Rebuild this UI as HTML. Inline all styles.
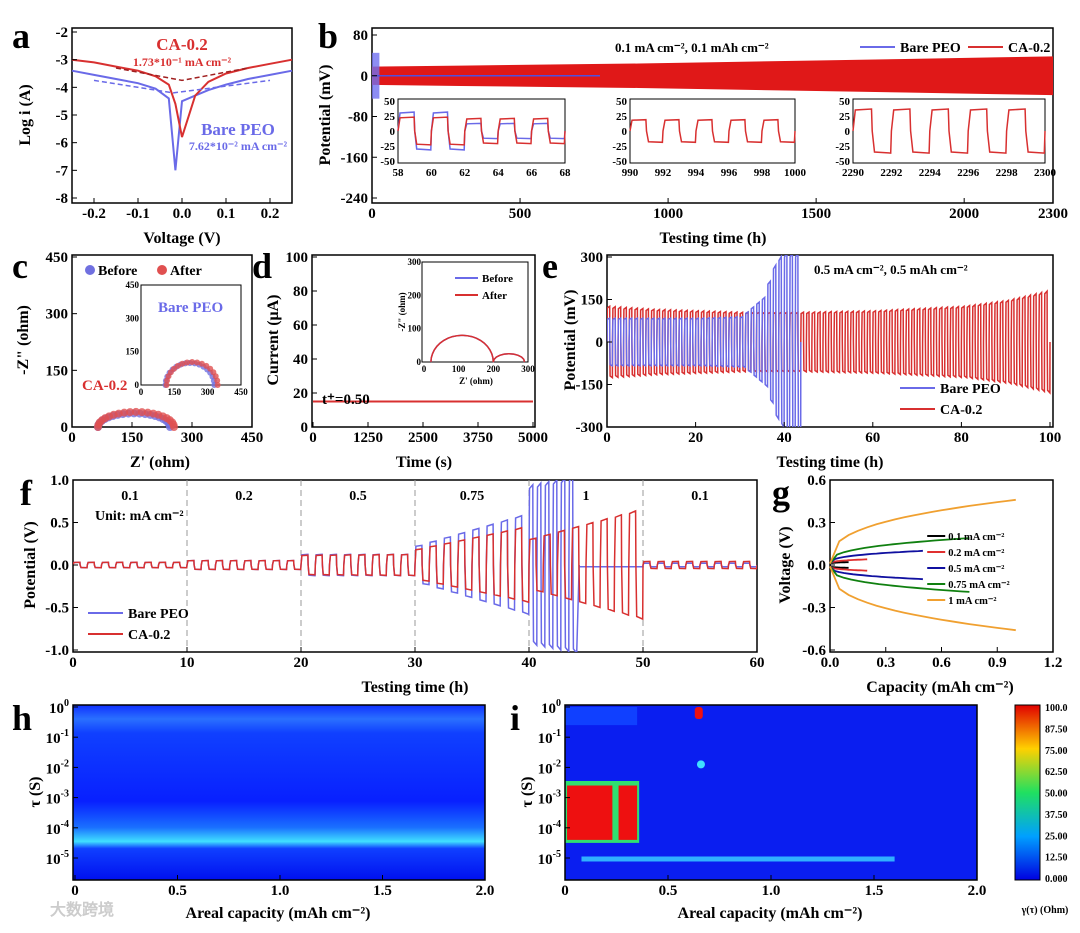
<!DOCTYPE html>
<html><head><meta charset="utf-8"><style>
body{margin:0;background:#fff}
svg text{font-family:"Liberation Serif",serif;font-weight:bold}
</style></head><body>
<svg id="fig" width="1080" height="928" viewBox="0 0 1080 928" xmlns="http://www.w3.org/2000/svg">
<defs>
<linearGradient id="cbar" x1="0" y1="1" x2="0" y2="0">
<stop offset="0" stop-color="#0000e0"/><stop offset="0.25" stop-color="#00a0ff"/><stop offset="0.5" stop-color="#20e060"/><stop offset="0.75" stop-color="#ffd000"/><stop offset="1" stop-color="#e00000"/></linearGradient>
<linearGradient id="hgrad" x1="0" y1="0" x2="0" y2="1">
<stop offset="0" stop-color="#1030ff"/><stop offset="0.08" stop-color="#2a70ff"/><stop offset="0.16" stop-color="#1040ff"/><stop offset="0.55" stop-color="#0820ff"/><stop offset="0.7" stop-color="#1a70ff"/><stop offset="0.78" stop-color="#40e0ff"/><stop offset="0.82" stop-color="#1040ff"/><stop offset="1" stop-color="#0010f0"/></linearGradient>
</defs>
</svg>
<script>
// ---------- data ----------
const tafelV=[-0.25,-0.2,-0.15,-0.1,-0.06,-0.03,-0.015,0,0.03,0.06,0.1,0.15,0.2,0.25];
const tafelCA=[-3.0,-3.1,-3.25,-3.4,-3.6,-3.9,-4.6,-5.8,-4.3,-3.8,-3.5,-3.3,-3.15,-3.0];
const tafelBare=[-3.4,-3.55,-3.7,-3.85,-4.05,-4.4,-7.0,-4.5,-4.3,-4.1,-3.9,-3.7,-3.55,-3.4];
const bTimes=[0,300,600,900,1200,1500,1800,2100,2300];
const bAmp=[18,20,22,24,27,30,33,36,38];
const inset1Bare=[30,-40,30,-40,12,-12,12,-12,12,-12];
const inset1CA=[22,-25,22,-25,20,-20,20,-20,20,-20];
const inset2CA=[18,18,18,18,18];
const inset3CA=[35,35,35,35,35];
const eCycleTime=[0,10,20,30,35,38,40,43,60,80,90,100];
const eCA=[120,110,105,100,100,100,100,100,105,120,140,175];
const eBare=[80,80,80,85,150,280,300,300,0,0,0,0];
const fSegStart=[0,10,20,30,40,50];
const fSegLabel=["0.1","0.2","0.5","0.75","1","0.1"];
const fCAStart=[0.03,0.05,0.11,0.18,0.3,0.04];
const fCAEnd=[0.03,0.05,0.12,0.45,0.65,0.04];
const fBareStart=[0.03,0.05,0.12,0.22,0.9,0.02];
const fBareEnd=[0.03,0.05,0.12,0.6,1.0,0.02];
const gRates=["0.1 mA cm⁻²","0.2 mA cm⁻²","0.5 mA cm⁻²","0.75 mA cm⁻²","1 mA cm⁻²"];
const gCap=[0.1,0.2,0.5,0.75,1.0];
const gVolt=[0.02,0.04,0.1,0.19,0.46];
const gColors=["#000","#e03030","#1010a0","#108010","#f0a030"];
// ---------- helpers ----------
const svg=document.getElementById('fig');const NS='http://www.w3.org/2000/svg';
function mk(tag,attrs,parent,name,inter){const e=document.createElementNS(NS,tag);for(const k in attrs)e.setAttribute(k,attrs[k]);


(parent||svg).appendChild(e);return e;}
function txt(x,y,s,size,attrs,name,parent){const t=mk('text',Object.assign({x:x,y:y,'font-size':size},attrs||{}),parent,name||'label');t.textContent=s;return t;}
function scale(d0,d1,r0,r1){return v=>r0+(v-d0)/(d1-d0)*(r1-r0);}
function frame(x0,y0,x1,y1,name){mk('rect',{x:x0,y:y0,width:x1-x0,height:y1-y0,fill:'none',stroke:'#000','stroke-width':1.5},null,name);}
function xticks(sx,vals,labs,y,size,name){vals.forEach((v,i)=>{mk('line',{x1:sx(v),x2:sx(v),y1:y,y2:y-5,stroke:'#000'},null,'x-tick');txt(sx(v),y+15,labs[i],size||15,{'text-anchor':'middle'},name||'x-tick-label');});}
function yticks(sy,vals,labs,x,size,name){vals.forEach((v,i)=>{mk('line',{x1:x,x2:x+5,y1:sy(v),y2:sy(v),stroke:'#000'},null,'y-tick');txt(x-4,sy(v)+5,labs[i],size||15,{'text-anchor':'end'},name||'y-tick-label');});}
function poly(pts,color,w,name,dash,parent){return mk('polyline',{points:pts.map(p=>p[0].toFixed(1)+','+p[1].toFixed(1)).join(' '),fill:'none',stroke:color,'stroke-width':w||1.5,'stroke-dasharray':dash||'none'},parent,name);}
function panelLabel(x,y,s){txt(x,y,s,36,{},'panel-label-'+s);}
function interp(xs,ys,x){for(let i=1;i<xs.length;i++){if(x<=xs[i]){const t=(x-xs[i-1])/(xs[i]-xs[i-1]);return ys[i-1]+t*(ys[i]-ys[i-1]);}}return ys[ys.length-1];}
function squareWave(sx,sy,t0,t1,period,ampFn,offFn){const pts=[];const n=Math.round((t1-t0)/period);for(let k=0;k<n;k++){const ta=t0+k*period,a=ampFn(ta);const tb=ta+period/2,tc=ta+period;const q=period*0.06;
pts.push([sx(ta),sy(0)],[sx(ta+q),sy(a)],[sx(tb-q*0.3),sy(a*1.05)],[sx(tb),sy(0)],[sx(tb+q),sy(-a)],[sx(tc-q*0.3),sy(-a*1.05)]);}pts.push([sx(t1),sy(0)]);return pts;}
const BLUE='#6a6ae8',RED='#d83030';
// ---------- panel a ----------
(function(){const sx=scale(-0.25,0.25,72,292),sy=scale(-2,-8,32,198);frame(72,28,292,203,'panel-a-frame');
poly(tafelV.map((v,i)=>[sx(v),sy(tafelBare[i])]),BLUE,2,'bare-peo-tafel');poly(tafelV.map((v,i)=>[sx(v),sy(tafelCA[i])]),RED,2,'ca-tafel');
poly([[sx(-0.2),sy(-3.75)],[sx(-0.02),sy(-4.2)],[sx(0.2),sy(-3.75)]],BLUE,1.5,'bare-fit','5,3');poly([[sx(-0.15),sy(-3.3)],[sx(0),sy(-3.75)],[sx(0.15),sy(-3.3)]],'#a02020',1.5,'ca-fit','5,3');
yticks(sy,[-2,-3,-4,-5,-6,-7,-8],['-2','-3','-4','-5','-6','-7','-8'],72);xticks(sx,[-0.2,-0.1,0,0.1,0.2],['-0.2','-0.1','0.0','0.1','0.2'],203);
txt(182,243,'Voltage (V)',16,{'text-anchor':'middle'},'x-axis-title');txt(30,115,'Log i (A)',16,{'text-anchor':'middle',transform:'rotate(-90 30 115)'},'y-axis-title');
txt(182,50,'CA-0.2',17,{'text-anchor':'middle',fill:RED},'ca-label');txt(182,66,'1.73*10⁻¹ mA cm⁻²',12,{'text-anchor':'middle',fill:RED},'ca-value');
txt(238,135,'Bare PEO',17,{'text-anchor':'middle',fill:BLUE},'bare-label');txt(238,150,'7.62*10⁻² mA cm⁻²',12,{'text-anchor':'middle',fill:BLUE},'bare-value');panelLabel(12,48,'a');})();
// ---------- panel b ----------
(function(){const sx=scale(0,2300,372,1053),sy=scale(80,-240,35,198);frame(372,28,1053,203,'panel-b-frame');
const top=[],bot=[];bTimes.forEach((t,i)=>{top.push([sx(t),sy(bAmp[i])]);bot.unshift([sx(t),sy(-bAmp[i])]);});mk('polygon',{points:top.concat(bot).map(p=>p.join(',')).join(' '),fill:'#e01818'},null,'ca-voltage-band');
mk('rect',{x:sx(0),y:sy(45),width:sx(25)-sx(0),height:sy(-45)-sy(45),fill:'#7070f0',opacity:0.8},null,'bare-voltage-band');poly([[sx(0),sy(0)],[sx(770),sy(0)]],'#5050e0',1.5,'bare-line');
yticks(sy,[80,0,-80,-160,-240],['80','0','-80','-160','-240'],372);xticks(sx,[0,500,1000,1500,2000,2300],['0','500','1000','1500','2000','2300'],203);
txt(713,243,'Testing time (h)',16,{'text-anchor':'middle'},'x-axis-title');txt(330,115,'Potential (mV)',16,{'text-anchor':'middle',transform:'rotate(-90 330 115)'},'y-axis-title');
txt(615,52,'0.1 mA cm⁻², 0.1 mAh cm⁻²',13,{},'condition-label');
mk('line',{x1:860,x2:895,y1:47,y2:47,stroke:BLUE,'stroke-width':2},null,'legend-bare-line');txt(900,52,'Bare PEO',14,{},'legend-bare');mk('line',{x1:968,x2:1003,y1:47,y2:47,stroke:RED,'stroke-width':2},null,'legend-ca-line');txt(1008,52,'CA-0.2',14,{},'legend-ca');
function inset(x0,x1,t0,t1,ticks,name,series){const g=mk('g',{},null,name);mk('rect',{x:x0,y:99,width:x1-x0,height:64,fill:'#fff',stroke:'#000'},g,'inset-frame');const ix=scale(t0,t1,x0,x1),iy=scale(50,-50,101,161);
series.forEach(s=>poly(s.pts(ix,iy),s.c,1.5,s.n,null,g));
[50,25,0,-25,-50].forEach(v=>{txt(x0-3,iy(v)+4,String(v),11,{'text-anchor':'end'},'inset-y-label',g);});ticks.forEach(v=>txt(ix(v),176,String(v),11,{'text-anchor':'middle'},'inset-x-label',g));}
inset(398,565,58,68,[58,60,62,64,66,68],'inset-58h',[{c:BLUE,n:'inset-bare',pts:(ix,iy)=>squareWave(ix,iy,58,68,2,t=>inset1Bare[Math.floor((t-58))]||12)},{c:RED,n:'inset-ca',pts:(ix,iy)=>squareWave(ix,iy,58,68,2,t=>inset1CA[Math.floor((t-58))]||20)}]);
inset(630,795,990,1000,[990,992,994,996,998,1000],'inset-990h',[{c:RED,n:'inset-ca',pts:(ix,iy)=>squareWave(ix,iy,990,1000,2,t=>inset2CA[Math.floor((t-990)/2)])}]);
inset(853,1045,2290,2300,[2290,2292,2294,2296,2298,2300],'inset-2290h',[{c:RED,n:'inset-ca',pts:(ix,iy)=>squareWave(ix,iy,2290,2300,2,t=>inset3CA[Math.floor((t-2290)/2)])}]);
panelLabel(318,48,'b');})();
// ---------- panel c ----------
(function(){const sx=scale(0,450,72,252),sy=scale(450,0,257,427);frame(72,255,252,427,'panel-c-frame');
function arc(c0,r,col,n,h){const pts=[];for(let k=0;k<=20;k++){const a=Math.PI*k/20;pts.push([sx(c0-r*Math.cos(a)),sy(r*Math.sin(a)*h)]);}pts.forEach(p=>mk('circle',{cx:p[0],cy:p[1],r:4,fill:col,opacity:0.8},null,n));}
arc(155,90,'#7070e0','c-before-point',0.4);arc(160,95,'#e05050','c-after-point',0.42);
yticks(sy,[0,150,300,450],['0','150','300','450'],72);xticks(sx,[0,150,300,450],['0','150','300','450'],427);
txt(160,467,"Z' (ohm)",16,{'text-anchor':'middle'},'x-axis-title');txt(28,340,'-Z" (ohm)',16,{'text-anchor':'middle',transform:'rotate(-90 28 340)'},'y-axis-title');
mk('circle',{cx:90,cy:270,r:5,fill:'#7070e0'},null,'legend-before-marker');txt(98,275,'Before',14,{},'legend-before');mk('circle',{cx:162,cy:270,r:5,fill:'#e05050'},null,'legend-after-marker');txt(170,275,'After',14,{},'legend-after');
txt(82,390,'CA-0.2',15,{fill:RED},'ca-label');
const g=mk('g',{},null,'inset-bare-peo');mk('rect',{x:141,y:285,width:100,height:100,fill:'#fff',stroke:'#000'},g,'inset-frame');const ix=scale(0,450,141,241),iy=scale(450,0,285,385);
[['#7070e0',220,110],['#e05050',230,115]].forEach(a=>{for(let k=0;k<=16;k++){const an=Math.PI*k/16;mk('circle',{cx:ix(a[1]-a[2]*Math.cos(an)),cy:iy(a[2]*Math.sin(an)*0.9),r:3,fill:a[0],opacity:0.8},g,'inset-point');}});
[0,150,300,450].forEach(v=>{txt(139,iy(v)+3,String(v),9,{'text-anchor':'end'},'inset-y-label',g);txt(ix(v),395,String(v),9,{'text-anchor':'middle'},'inset-x-label',g);});txt(158,312,'Bare PEO',15,{fill:BLUE},'bare-label',g);
panelLabel(12,278,'c');})();
// ---------- panel d ----------
(function(){const sx=scale(0,5000,313,533),sy=scale(100,0,257,427);frame(312,255,535,427,'panel-d-frame');
poly([[sx(0),sy(15)],[sx(5000),sy(15)]],RED,2,'current-line');
yticks(sy,[0,20,40,60,80,100],['0','20','40','60','80','100'],312);xticks(sx,[0,1250,2500,3750,5000],['0','1250','2500','3750','5000'],427);
txt(424,467,'Time (s)',16,{'text-anchor':'middle'},'x-axis-title');txt(278,340,'Current (μA)',16,{'text-anchor':'middle',transform:'rotate(-90 278 340)'},'y-axis-title');
txt(322,404,'t⁺=0.50',15,{},'transference-label');
const g=mk('g',{},null,'inset-eis');mk('rect',{x:422,y:262,width:106,height:100,fill:'#fff',stroke:'#000'},g,'inset-frame');const ix=scale(0,300,424,528),iy=scale(300,0,262,362);
const p=[];for(let k=0;k<=20;k++){const a=Math.PI*k/20;p.push([ix(110-90*Math.cos(a)),iy(80*Math.sin(a))]);}for(let k=0;k<=10;k++){const a=Math.PI*k/10;p.push([ix(245-45*Math.cos(a)),iy(25*Math.sin(a))]);}
poly(p,BLUE,1.5,'inset-before',null,g);poly(p,RED,1.5,'inset-after',null,g);
[0,100,200,300].forEach(v=>{txt(421,iy(v)+3,String(v),9,{'text-anchor':'end'},'inset-y-label',g);txt(ix(v),372,String(v),9,{'text-anchor':'middle'},'inset-x-label',g);});
mk('line',{x1:455,x2:478,y1:278,y2:278,stroke:BLUE,'stroke-width':2},g,'legend-before-line');txt(482,282,'Before',11,{},'legend-before',g);mk('line',{x1:455,x2:478,y1:295,y2:295,stroke:RED,'stroke-width':2},g,'legend-after-line');txt(482,299,'After',11,{},'legend-after',g);
txt(476,384,"Z' (ohm)",9,{'text-anchor':'middle'},'inset-x-title',g);txt(405,312,'-Z" (ohm)',9,{'text-anchor':'middle',transform:'rotate(-90 405 312)'},'inset-y-title',g);
panelLabel(252,278,'d');})();
// ---------- panel e ----------
(function(){const sx=scale(0,100,607,1050),sy=scale(300,-300,257,427);frame(607,255,1053,427,'panel-e-frame');
const cl=mk('clipPath',{id:'clipE'},null,'clip');mk('rect',{x:607,y:255,width:446,height:172},cl,'clip-rect');
const ca=poly(squareWave(sx,sy,0,100,1.25,t=>interp(eCycleTime,eCA,t)),RED,1.5,'ca-voltage');ca.setAttribute('clip-path','url(#clipE)');
const bp=poly(squareWave(sx,sy,0,43.75,1.25,t=>interp(eCycleTime,eBare,t)),BLUE,1.5,'bare-voltage');bp.setAttribute('clip-path','url(#clipE)');
yticks(sy,[300,150,0,-150,-300],['300','150','0','-150','-300'],607);xticks(sx,[0,20,40,60,80,100],['0','20','40','60','80','100'],427);
txt(830,467,'Testing time (h)',16,{'text-anchor':'middle'},'x-axis-title');txt(575,340,'Potential (mV)',16,{'text-anchor':'middle',transform:'rotate(-90 575 340)'},'y-axis-title');
txt(814,274,'0.5 mA cm⁻², 0.5 mAh cm⁻²',13,{},'condition-label');
mk('line',{x1:900,x2:935,y1:388,y2:388,stroke:BLUE,'stroke-width':2},null,'legend-bare-line');txt(940,393,'Bare PEO',14,{},'legend-bare');mk('line',{x1:900,x2:935,y1:409,y2:409,stroke:RED,'stroke-width':2},null,'legend-ca-line');txt(940,414,'CA-0.2',14,{},'legend-ca');
panelLabel(542,278,'e');})();
// ---------- panel f ----------
(function(){const sx=scale(0,60,73,757),sy=scale(1,-1,480,650);frame(73,480,757,652,'panel-f-frame');
const cl=mk('clipPath',{id:'clipF'},null,'clip');mk('rect',{x:73,y:480,width:684,height:172},cl,'clip-rect');
fSegStart.forEach((s,i)=>{if(i>0)mk('line',{x1:sx(s),x2:sx(s),y1:480,y2:652,stroke:'#999','stroke-dasharray':'6,4'},null,'segment-divider');txt(sx(s+5),500,fSegLabel[i],14,{'text-anchor':'middle'},'rate-label');});
const per=1.25;
const bare=[];fSegStart.forEach((s,i)=>{const e=s+10;if(i===4){bare.push(...squareWave(sx,sy,40,44.4,0.7,t=>fBareStart[4]+(t-40)/4*(fBareEnd[4]-fBareStart[4])));bare.push([sx(44.4),sy(-0.02)],[sx(50),sy(-0.02)]);}else bare.push(...squareWave(sx,sy,s,e,per,t=>fBareStart[i]+(t-s)/10*(fBareEnd[i]-fBareStart[i])));});
const ca=[];fSegStart.forEach((s,i)=>{ca.push(...squareWave(sx,sy,s,s+10,per,t=>fCAStart[i]+(t-s)/10*(fCAEnd[i]-fCAStart[i])));});
poly(bare,BLUE,1.5,'bare-voltage').setAttribute('clip-path','url(#clipF)');poly(ca,RED,1.5,'ca-voltage').setAttribute('clip-path','url(#clipF)');
yticks(sy,[1,0.5,0,-0.5,-1],['1.0','0.5','0.0','-0.5','-1.0'],73);xticks(sx,[0,10,20,30,40,50,60],['0','10','20','30','40','50','60'],652);
txt(415,692,'Testing time (h)',16,{'text-anchor':'middle'},'x-axis-title');txt(35,565,'Potential (V)',16,{'text-anchor':'middle',transform:'rotate(-90 35 565)'},'y-axis-title');
txt(95,520,'Unit: mA cm⁻²',14,{},'unit-label');
mk('line',{x1:88,x2:123,y1:613,y2:613,stroke:BLUE,'stroke-width':2},null,'legend-bare-line');txt(128,618,'Bare PEO',14,{},'legend-bare');mk('line',{x1:88,x2:123,y1:634,y2:634,stroke:RED,'stroke-width':2},null,'legend-ca-line');txt(128,639,'CA-0.2',14,{},'legend-ca');
panelLabel(20,505,'f');})();
// ---------- panel g ----------
(function(){const sx=scale(0,1.2,830,1053),sy=scale(0.6,-0.6,480,650);frame(830,480,1053,652,'panel-g-frame');
gCap.forEach((c,i)=>{const v=gVolt[i];[1,-1].forEach(sg=>{const pts=[];for(let k=0;k<=20;k++){const q=c*k/20;const f=k===0?0:Math.pow(k/20,0.35);pts.push([sx(q),sy(sg*(0.01+(v-0.01)*f))]);}poly(pts,gColors[i],1.8,'curve-'+i);});});
gRates.forEach((r,i)=>{const y=[540,556,572,588,604][i];mk('line',{x1:sx(0.62)-18,x2:sx(0.62),y1:y-4,y2:y-4,stroke:gColors[i],'stroke-width':2},null,'legend-line');txt(sx(0.62)+3,y,r,10.5,{},'legend-rate');});
yticks(sy,[0.6,0.3,0,-0.3,-0.6],['0.6','0.3','0.0','-0.3','-0.6'],830);xticks(sx,[0,0.3,0.6,0.9,1.2],['0.0','0.3','0.6','0.9','1.2'],652);
txt(940,692,'Capacity (mAh cm⁻²)',16,{'text-anchor':'middle'},'x-axis-title');txt(790,565,'Voltage (V)',16,{'text-anchor':'middle',transform:'rotate(-90 790 565)'},'y-axis-title');
panelLabel(772,505,'g');})();
// ---------- panels h, i ----------
function logAxis(x0,sy){[0,-1,-2,-3,-4,-5].forEach(p=>{mk('line',{x1:x0,x2:x0+5,y1:sy(p),y2:sy(p),stroke:'#000'},null,'y-tick');const t=txt(x0-4,sy(p)+6,'10',15,{'text-anchor':'end'},'y-tick-label');const s=document.createElementNS(NS,'tspan');s.setAttribute('dy','-7');s.setAttribute('font-size','10');s.textContent=String(p);t.appendChild(s);});}
(function(){const sx=scale(0,2,75,485),sy=scale(0,-5,707,858);mk('rect',{x:73,y:705,width:412,height:175,fill:'url(#hgrad)'},null,'heatmap-h');frame(73,705,485,880,'panel-h-frame');
logAxis(73,sy);xticks(sx,[0,0.5,1,1.5,2],['0','0.5','1.0','1.5','2.0'],880);
txt(278,918,'Areal capacity (mAh cm⁻²)',16,{'text-anchor':'middle'},'x-axis-title');txt(40,792,'τ (S)',16,{'text-anchor':'middle',transform:'rotate(-90 40 792)'},'y-axis-title');panelLabel(12,730,'h');})();
(function(){const sx=scale(0,2,565,977),sy=scale(0,-5,707,858);mk('rect',{x:565,y:705,width:412,height:175,fill:'#0a1ef0'},null,'heatmap-i-bg');
mk('rect',{x:sx(0),y:sy(0),width:sx(0.35)-sx(0),height:sy(-0.6)-sy(0),fill:'#1040ff'},null,'heatmap-i-band');
mk('rect',{x:sx(0.0),y:sy(-2.45),width:sx(0.36)-sx(0),height:sy(-4.5)-sy(-2.45),fill:'#30e070'},null,'heatmap-i-green');
mk('rect',{x:sx(0.01),y:sy(-2.6),width:sx(0.23)-sx(0.01),height:sy(-4.4)-sy(-2.6),fill:'#ee1010'},null,'heatmap-i-red1');
mk('rect',{x:sx(0.26),y:sy(-2.6),width:sx(0.35)-sx(0.26),height:sy(-4.4)-sy(-2.6),fill:'#ee1010'},null,'heatmap-i-red2');
mk('rect',{x:sx(0.08),y:sy(-4.95),width:sx(1.6)-sx(0.08),height:5,fill:'#30b0ff'},null,'heatmap-i-line');
mk('rect',{x:sx(0.63),y:sy(0),width:8,height:12,rx:3,fill:'#ee1010'},null,'heatmap-i-dot');mk('circle',{cx:sx(0.66),cy:sy(-1.9),r:4,fill:'#40e0ff'},null,'heatmap-i-spot');
frame(565,705,977,880,'panel-i-frame');logAxis(565,sy);xticks(sx,[0,0.5,1,1.5,2],['0','0.5','1.0','1.5','2.0'],880);
txt(770,918,'Areal capacity (mAh cm⁻²)',16,{'text-anchor':'middle'},'x-axis-title');txt(532,792,'τ (S)',16,{'text-anchor':'middle',transform:'rotate(-90 532 792)'},'y-axis-title');panelLabel(510,730,'i');
mk('rect',{x:1015,y:705,width:25,height:175,fill:'url(#cbar)',stroke:'#000'},null,'colorbar');
const cbv=['100.0','87.50','75.00','62.50','50.00','37.50','25.00','12.50','0.000'];cbv.forEach((v,i)=>{const y=707+i*(171/8);txt(1045,y+4,v,10,{},'colorbar-label');});
txt(1045,913,'γ(τ) (Ohm)',10,{'text-anchor':'middle'},'colorbar-title');})();
txt(50,915,'大数跨境',16,{fill:'#ccc','font-family':'"Noto Sans CJK SC",sans-serif'},'watermark');
</script>
</body></html>
